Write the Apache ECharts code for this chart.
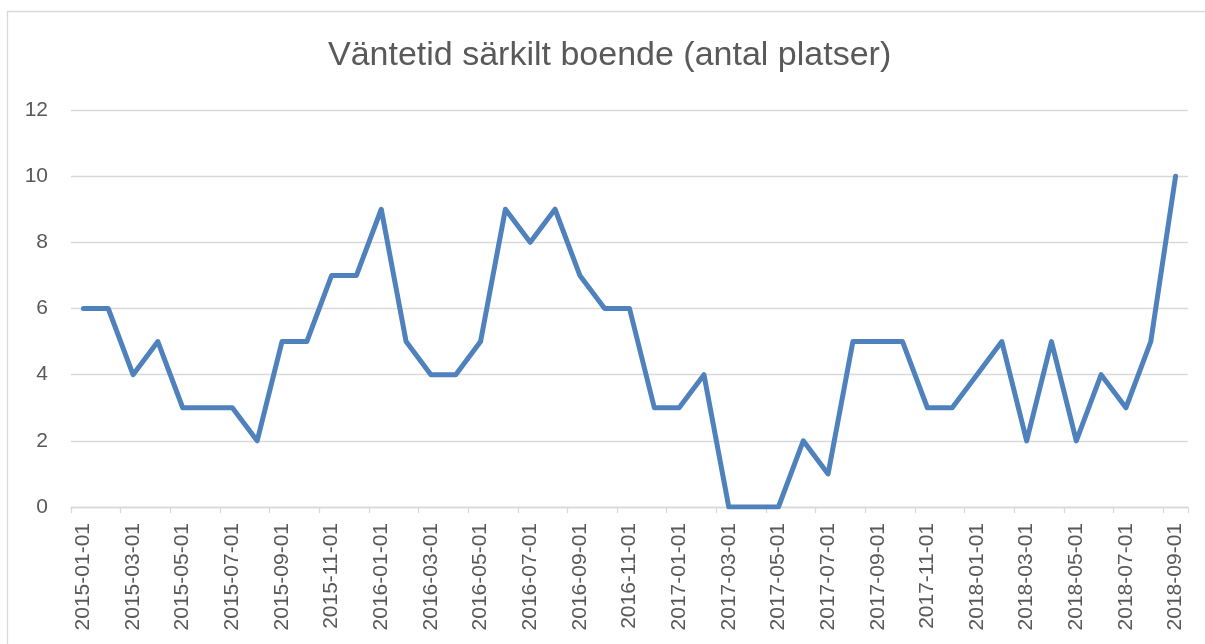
<!DOCTYPE html>
<html>
<head>
<meta charset="utf-8">
<script src="https://cdn.jsdelivr.net/npm/echarts@6/dist/echarts.min.js"></script>
<style>
html,body{margin:0;padding:0;background:#fff;}
#c{width:1205px;height:644px;}
</style>
</head>
<body>
<div id="c"></div>
<script>
const titleText = 'Väntetid särkilt boende (antal platser)';
const categories = [
  '2015-01-01','2015-02-01','2015-03-01','2015-04-01','2015-05-01','2015-06-01','2015-07-01','2015-08-01','2015-09-01','2015-10-01','2015-11-01','2015-12-01',
  '2016-01-01','2016-02-01','2016-03-01','2016-04-01','2016-05-01','2016-06-01','2016-07-01','2016-08-01','2016-09-01','2016-10-01','2016-11-01','2016-12-01',
  '2017-01-01','2017-02-01','2017-03-01','2017-04-01','2017-05-01','2017-06-01','2017-07-01','2017-08-01','2017-09-01','2017-10-01','2017-11-01','2017-12-01',
  '2018-01-01','2018-02-01','2018-03-01','2018-04-01','2018-05-01','2018-06-01','2018-07-01','2018-08-01','2018-09-01'
];
const values = [
  6,6,4,5,3,3,3,2,5,5,7,7,
  9,5,4,4,5,9,8,9,7,6,6,3,
  3,4,0,0,0,2,1,5,5,5,3,3,
  4,5,2,5,2,4,3,5,10
];
const yMin = 0, yMax = 12, yStep = 2;

const chart = echarts.init(document.getElementById('c'), null, {renderer:'canvas'});
chart.setOption({
  animation: false,
  backgroundColor: '#ffffff',
  graphic: [{
    type: 'rect',
    shape: {x: 7.5, y: 11.5, width: 1400, height: 1000},
    style: {fill: 'none', stroke: '#d9d9d9', lineWidth: 1.3},
    silent: true
  }],
  title: {
    text: titleText,
    left: 328,
    top: 39,
    padding: 0,
    textStyle: {fontFamily: 'Liberation Sans', fontSize: 34, fontWeight: 'normal', color: '#595959'}
  },
  grid: {left: 71, right: 17, top: 110, bottom: 137, containLabel: false},
  xAxis: {
    type: 'category',
    data: categories,
    boundaryGap: true,
    axisLine: {show: true, lineStyle: {color: '#d9d9d9', width: 1.3}},
    axisTick: {show: true, interval: 1, length: 6, lineStyle: {color: '#d9d9d9', width: 1.3}},
    axisLabel: {interval: 1, rotate: 90, margin: 16, color: '#595959', fontFamily: 'Liberation Sans', fontSize: 21}
  },
  yAxis: {
    type: 'value',
    min: yMin, max: yMax, interval: yStep,
    axisLine: {show: false},
    axisTick: {show: false},
    splitLine: {lineStyle: {color: '#d9d9d9', width: 1.3}},
    axisLabel: {margin: 23, color: '#595959', fontFamily: 'Liberation Sans', fontSize: 21}
  },
  series: [{
    type: 'line',
    data: values,
    showSymbol: false,
    symbol: 'none',
    lineStyle: {color: '#4f81bd', width: 5, cap: 'round', join: 'round'},
    itemStyle: {color: '#4f81bd'}
  }]
});
</script>
</body>
</html>
